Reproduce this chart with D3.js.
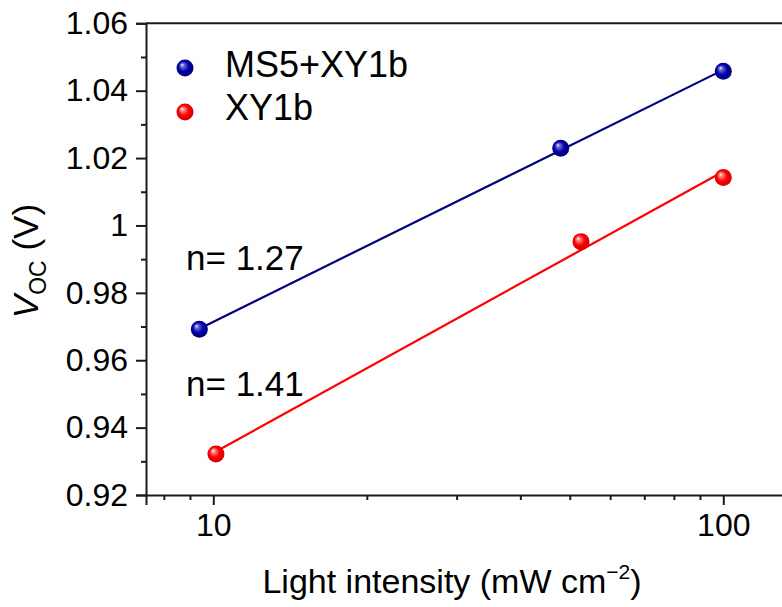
<!DOCTYPE html>
<html>
<head>
<meta charset="utf-8">
<script src="https://cdn.jsdelivr.net/npm/d3@7"></script>
<style>
  body { margin: 0; background: #fff; }
  text { font-family: "Liberation Sans", Arial, sans-serif; fill: #000; }
</style>
</head>
<body>
<div id="chart-area"></div>
<script>
// data
var intensityBlue = [9.39, 48.0, 100];
var vocBlue = [0.9692, 1.0229, 1.0458];
var intensityRed = [10.12, 52.6, 100];
var vocRed = [0.9322, 0.9952, 1.0142];
var seriesNames = ["MS5+XY1b", "XY1b"];
var idealityLabels = ["n= 1.27", "n= 1.41"];
var yTicks = [0.92, 0.94, 0.96, 0.98, 1.0, 1.02, 1.04, 1.06];
var yTickLabels = ["0.92", "0.94", "0.96", "0.98", "1", "1.02", "1.04", "1.06"];
var yMinor = [0.93, 0.95, 0.97, 0.99, 1.01, 1.03, 1.05];
var xTicks = [10, 100];
var xTickLabels = ["10", "100"];
var xMinor = [8, 9, 20, 30, 40, 50, 60, 70, 80, 90];

var width = 782, height = 607;
var plotLeft = 146, plotTop = 23.3, plotBottom = 495;
var decade = 510;

var svg = d3.select("#chart-area")
	.append("svg")
		.attr("width", width)
		.attr("height", height);

var defs = svg.append("defs");
function ball(id, light, main, dark) {
	var g = defs.append("radialGradient")
		.attr("id", id)
		.attr("cx", "50%").attr("cy", "50%").attr("r", "55%")
		.attr("fx", "32%").attr("fy", "30%");
	g.append("stop").attr("offset", "0%").attr("stop-color", "#ffffff");
	g.append("stop").attr("offset", "18%").attr("stop-color", light);
	g.append("stop").attr("offset", "55%").attr("stop-color", main);
	g.append("stop").attr("offset", "100%").attr("stop-color", dark);
}
ball("ballBlue", "#6f6fd8", "#0000a8", "#000070");
ball("ballRed", "#ff8a8a", "#ff0000", "#c80000");

var xMin = 7.38, xMax = 133;
var x = d3.scaleLog()
	.domain([xMin, xMax])
	.range([plotLeft, plotLeft + decade * Math.log10(xMax / xMin)]);
var y = d3.scaleLinear()
	.domain([0.92, 1.06])
	.range([plotBottom, plotTop]);

// frame (top line plus left/bottom axes)
var axisColor = "#1a1a1a";
svg.append("line")
	.attr("x1", x(xMin)).attr("x2", x(xMax))
	.attr("y1", y(1.06)).attr("y2", y(1.06))
	.attr("stroke", axisColor).attr("stroke-width", 2);

var xAxis = d3.axisBottom(x).tickValues(xTicks)
	.tickFormat((d, i) => xTickLabels[i]).tickSize(10).tickPadding(8);
var xg = svg.append("g")
	.attr("transform", "translate(0," + plotBottom + ")")
	.call(xAxis);
xg.select(".domain").attr("stroke", axisColor).attr("stroke-width", 2);
xg.selectAll(".tick line").attr("stroke", axisColor).attr("stroke-width", 2);
xg.selectAll(".tick text").attr("font-size", "32px")
	.style("font-family", "Liberation Sans, Arial, sans-serif").attr("fill", "#000");

svg.append("g")
	.attr("transform", "translate(0," + plotBottom + ")")
	.call(d3.axisBottom(x).tickValues(xMinor).tickFormat("").tickSize(5))
	.call((g) => g.select(".domain").remove())
	.selectAll(".tick line").attr("stroke", axisColor).attr("stroke-width", 2);

var yAxis = d3.axisLeft(y).tickValues(yTicks)
	.tickFormat((d, i) => yTickLabels[i]).tickSize(10).tickPadding(8);
var yg = svg.append("g")
	.attr("transform", "translate(" + plotLeft + ",0)")
	.call(yAxis);
yg.select(".domain").attr("stroke", axisColor).attr("stroke-width", 2);
yg.selectAll(".tick line").attr("stroke", axisColor).attr("stroke-width", 2);
yg.selectAll(".tick text").attr("font-size", "32px")
	.style("font-family", "Liberation Sans, Arial, sans-serif").attr("fill", "#000");

svg.append("g")
	.attr("transform", "translate(" + plotLeft + ",0)")
	.call(d3.axisLeft(y).tickValues(yMinor).tickFormat("").tickSize(5))
	.call((g) => g.select(".domain").remove())
	.selectAll(".tick line").attr("stroke", axisColor).attr("stroke-width", 2);

// axis titles
svg.append("text")
	.attr("x", 452).attr("y", 593)
	.attr("text-anchor", "middle")
	.attr("font-size", "34px")
	.call((t) => {
		t.append("tspan").text("Light intensity (mW cm");
		t.append("tspan").attr("font-size", "21px").attr("dy", -14).text("\u22122");
		t.append("tspan").attr("dy", 14).text(")");
	});

svg.append("text")
	.attr("transform", "translate(38,261) rotate(-90)")
	.attr("text-anchor", "middle")
	.attr("font-size", "35px")
	.call((t) => {
		t.append("tspan").attr("font-style", "italic").text("V");
		t.append("tspan").attr("font-size", "23px").attr("dy", 8).text("OC");
		t.append("tspan").attr("dy", -8).text(" (V)");
	});

// linear fits in log(x)
function fit(xs, ys) {
	var lx = xs.map((d) => Math.log10(d));
	var mx = d3.mean(lx), my = d3.mean(ys);
	var sxy = d3.sum(lx, (d, i) => (d - mx) * (ys[i] - my));
	var sxx = d3.sum(lx, (d) => (d - mx) * (d - mx));
	var b = sxy / sxx, a = my - b * mx;
	var ends = [d3.min(xs), d3.max(xs)];
	return ends.map((d) => ({x: d, y: a + b * Math.log10(d)}));
}

var line = d3.line().x((d) => x(d.x)).y((d) => y(d.y));
var series = [
	{xs: intensityBlue, ys: vocBlue, line: "#000080", ball: "url(#ballBlue)"},
	{xs: intensityRed, ys: vocRed, line: "#ff0000", ball: "url(#ballRed)"}
];

series.forEach((s) => {
	svg.append("path")
		.attr("d", line(fit(s.xs, s.ys)))
		.attr("fill", "none")
		.attr("stroke", s.line)
		.attr("stroke-width", 2.2);
});
series.forEach((s) => {
	svg.selectAll(null)
		.data(s.xs)
		.enter()
		.append("circle")
		.attr("cx", (d) => x(d))
		.attr("cy", (d, i) => y(s.ys[i]))
		.attr("r", 8.5)
		.attr("fill", s.ball);
});

// legend
var legend = svg.append("g");
seriesNames.forEach((name, i) => {
	legend.append("circle")
		.attr("cx", 185).attr("cy", 68 + i * 44)
		.attr("r", 8.5)
		.attr("fill", series[i].ball);
	legend.append("text")
		.attr("x", 225).attr("y", 77 + i * 43)
		.attr("font-size", "36px")
		.text(name);
});

// ideality factor notes
var notePos = [[186, 270], [186, 396]];
idealityLabels.forEach((t, i) => {
	svg.append("text")
		.attr("x", notePos[i][0]).attr("y", notePos[i][1])
		.attr("font-size", "35px")
		.text(t);
});
</script>
</body>
</html>
